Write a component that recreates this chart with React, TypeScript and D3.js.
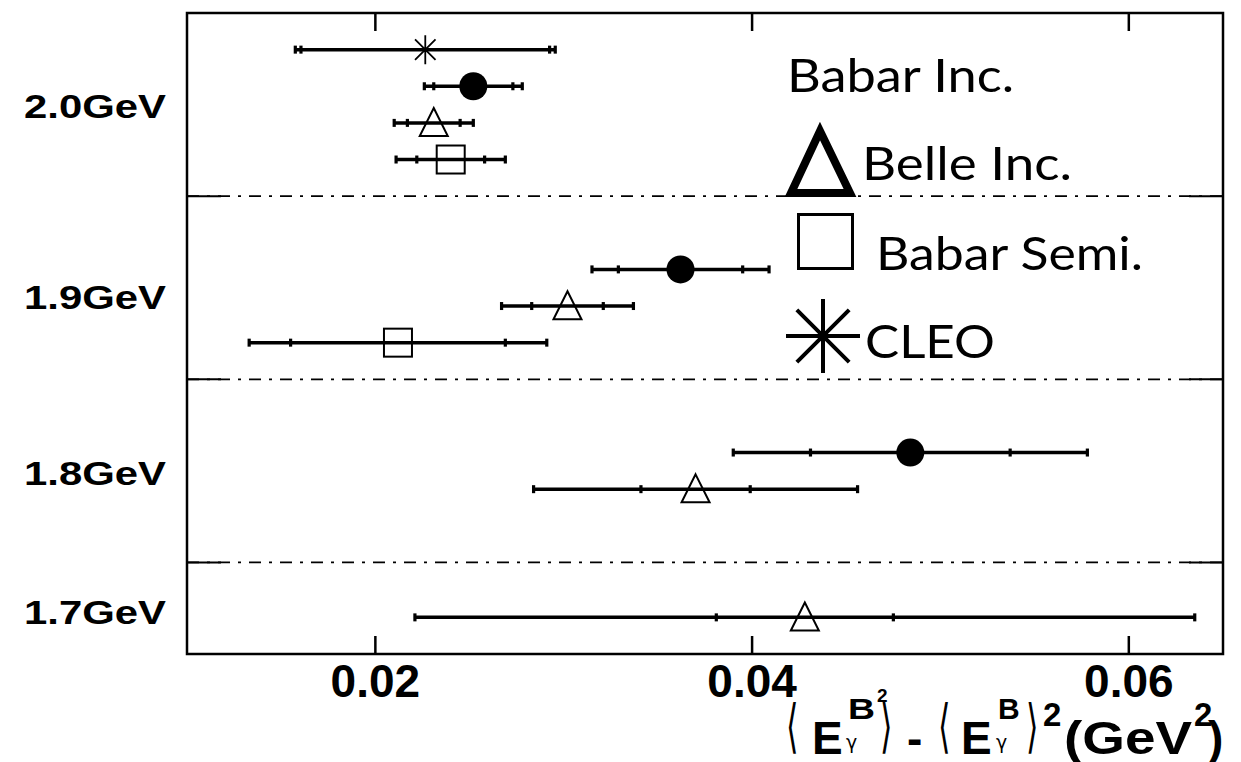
import React from "react";
import * as d3 from "d3";

// Photon-energy cut values (one band each)
const energies = ["2.0GeV", "1.9GeV", "1.8GeV", "1.7GeV"];

// Measured variance <E^2> - <E>^2 with statistical and total uncertainties (GeV^2)
const babarInc = [
  { energy: "2.0GeV", value: 0.0252, stat: 0.0021, total: 0.0026 },
  { energy: "1.9GeV", value: 0.0362, stat: 0.0033, total: 0.0047 },
  { energy: "1.8GeV", value: 0.0484, stat: 0.0053, total: 0.0094 },
];
const belleInc = [
  { energy: "2.0GeV", value: 0.0231, stat: 0.0014, total: 0.0021 },
  { energy: "1.9GeV", value: 0.0302, stat: 0.0019, total: 0.0035 },
  { energy: "1.8GeV", value: 0.0370, stat: 0.0029, total: 0.0086 },
  { energy: "1.7GeV", value: 0.0428, stat: 0.0047, total: 0.0207 },
];
const babarSemi = [
  { energy: "2.0GeV", value: 0.0240, stat: 0.0018, total: 0.0029 },
  { energy: "1.9GeV", value: 0.0212, stat: 0.0057, total: 0.0079 },
];
const cleo = [{ energy: "2.0GeV", value: 0.02265, stat: 0.0066, total: 0.0069 }];

const xTicks = [0.02, 0.04, 0.06];
const xTickLabels = ["0.02", "0.04", "0.06"];

// Vertical slot layout: each band spans 5 slots (the last one 2.5)
const bandStart: Record<string, number> = { "2.0GeV": 0, "1.9GeV": 5, "1.8GeV": 10, "1.7GeV": 15 };
const labelSlot: Record<string, number> = { "2.0GeV": 2.55, "1.9GeV": 7.75, "1.8GeV": 12.55, "1.7GeV": 16.35 };
const seriesOffset: Record<string, number> = { cleo: 1, babarInc: 2, belleInc: 3, babarSemi: 4 };

const W = 1241;
const H = 762;
const left = 187, right = 1223, top = 13, bottom = 654;

const x = d3.scaleLinear().domain([0.01, 0.065]).range([left, right]);
const y = d3.scaleLinear().domain([0, 17.5]).range([top, bottom]);

function slotOf(series: string, energy: string) {
  if (energy === "1.7GeV") return bandStart[energy] + 1.5;
  return bandStart[energy] + seriesOffset[series];
}

type Pt = { energy: string; value: number; stat: number; total: number };

function ErrorBar({ d, cy }: { d: Pt; cy: number }) {
  const ends = [d.value - d.total, d.value - d.stat, d.value + d.stat, d.value + d.total];
  return (
    <g>
      <line x1={x(d.value - d.total)} x2={x(d.value + d.total)} y1={cy} y2={cy} stroke="#000" strokeWidth={3.5} />
      {ends.map((v, i) => (
        <rect key={i} x={x(v) - 1.6} y={cy - 4} width={3.2} height={8} fill="#000" />
      ))}
    </g>
  );
}

function triPath(cx: number, cy: number, s: number) {
  const h = s;
  return `M${cx},${cy - h * 0.53} L${cx + s / 2},${cy + h * 0.47} L${cx - s / 2},${cy + h * 0.47} Z`;
}

function starPath(cx: number, cy: number, r: number, withHorizontal: boolean) {
  const dd = r * Math.SQRT1_2;
  let p = `M${cx},${cy - r} L${cx},${cy + r} M${cx - dd},${cy - dd} L${cx + dd},${cy + dd} M${cx - dd},${cy + dd} L${cx + dd},${cy - dd}`;
  if (withHorizontal) p += ` M${cx - r},${cy} L${cx + r},${cy}`;
  return p;
}

const boldFont = "'Liberation Sans', Arial, Helvetica, sans-serif";
const legendFont = "Lato, 'Open Sans', sans-serif";
const symFont = "'DejaVu Sans', sans-serif";

// Tall, narrow angle bracket for the axis title
function Bracket({ x0, ch }: { x0: number; ch: string }) {
  return (
    <text transform={`translate(${x0},746) scale(0.8,1.45)`} x={0} y={0} fontFamily={symFont} fontWeight="normal" fontSize={40}>
      {ch}
    </text>
  );
}

export default function App() {
  const dividers = [5, 10, 15];
  return (
    <svg width={W} height={H} style={{ position: "absolute", left: 0, top: 0, background: "#fff" }}>
      <rect x={0} y={0} width={W} height={H} fill="#fff" />

      {/* band dividers */}
      {dividers.map((s) => (
        <g key={s}>
          <line x1={left} x2={right} y1={y(s)} y2={y(s)} stroke="#000" strokeWidth={1.8} strokeDasharray="12,8,3,8" />
          <line x1={left} x2={left + 34} y1={y(s)} y2={y(s)} stroke="#000" strokeWidth={2} />
          <line x1={right - 34} x2={right} y1={y(s)} y2={y(s)} stroke="#000" strokeWidth={2} />
        </g>
      ))}

      {/* frame */}
      <rect x={left} y={top} width={right - left} height={bottom - top} fill="none" stroke="#000" strokeWidth={2.5} />

      {/* x ticks top and bottom */}
      {xTicks.map((t) => (
        <g key={t}>
          <line x1={x(t)} x2={x(t)} y1={bottom} y2={bottom - 18} stroke="#000" strokeWidth={2.5} />
          <line x1={x(t)} x2={x(t)} y1={top} y2={top + 18} stroke="#000" strokeWidth={2.5} />
        </g>
      ))}
      {xTicks.map((t, i) => (
        <text key={t} x={x(t)} y={697} textAnchor="middle" fontFamily={boldFont} fontWeight="bold" fontSize={46} fill="#000">
          {xTickLabels[i]}
        </text>
      ))}

      {/* band labels */}
      {energies.map((e) => (
        <text key={e} x={24} y={y(labelSlot[e]) + 12} fontFamily={boldFont} fontWeight="bold" fontSize={33}
          textLength={142} lengthAdjust="spacingAndGlyphs" fill="#000">
          {e}
        </text>
      ))}

      {/* error bars */}
      {cleo.map((d) => <ErrorBar key={"c" + d.energy} d={d} cy={y(slotOf("cleo", d.energy))} />)}
      {babarInc.map((d) => <ErrorBar key={"bi" + d.energy} d={d} cy={y(slotOf("babarInc", d.energy))} />)}
      {belleInc.map((d) => <ErrorBar key={"be" + d.energy} d={d} cy={y(slotOf("belleInc", d.energy))} />)}
      {babarSemi.map((d) => <ErrorBar key={"bs" + d.energy} d={d} cy={y(slotOf("babarSemi", d.energy))} />)}

      {/* markers */}
      {cleo.map((d) => (
        <path key={"cm" + d.energy} d={starPath(x(d.value), y(slotOf("cleo", d.energy)), 14.5, false)} stroke="#000" strokeWidth={1.8} fill="none" />
      ))}
      {babarInc.map((d) => (
        <circle key={"bim" + d.energy} cx={x(d.value)} cy={y(slotOf("babarInc", d.energy))} r={14} fill="#000" />
      ))}
      {belleInc.map((d) => (
        <path key={"bem" + d.energy} d={triPath(x(d.value), y(slotOf("belleInc", d.energy)), 28)} stroke="#000" strokeWidth={2} fill="none" />
      ))}
      {babarSemi.map((d) => {
        const cx = x(d.value), cy = y(slotOf("babarSemi", d.energy));
        return <rect key={"bsm" + d.energy} x={cx - 14} y={cy - 14} width={28} height={28} stroke="#000" strokeWidth={2} fill="none" />;
      })}

      {/* legend */}
      <g fill="#000" fontFamily={legendFont} fontSize={47}>
        <text x={787} y={92} textLength={227} lengthAdjust="spacingAndGlyphs">Babar Inc.</text>
        <path d="M820,131 L850,193 L791,193 Z" fill="none" stroke="#000" strokeWidth={8} />
        <text x={862} y={180} textLength={210} lengthAdjust="spacingAndGlyphs">Belle Inc.</text>
        <rect x={798.5} y={214.5} width={54} height={54} fill="none" stroke="#000" strokeWidth={3} />
        <text x={876} y={270} textLength={267} lengthAdjust="spacingAndGlyphs">Babar Semi.</text>
        <path d={starPath(823, 336, 37, true)} stroke="#000" strokeWidth={4} fill="none" />
        <text x={865} y={358} textLength={130} lengthAdjust="spacingAndGlyphs">CLEO</text>
      </g>

      {/* x-axis title: <E^{B^2}_gamma> - <E^B_gamma>^2 (GeV^2) */}
      <g fill="#000" fontFamily={boldFont} fontWeight="bold">
        <Bracket x0={786} ch="⟨" />
        <text x={812} y={754} fontSize={46}>E</text>
        <text x={846} y={749} fontFamily={symFont} fontWeight="normal" fontSize={19}>γ</text>
        <text x={848} y={719} fontSize={30} textLength={27} lengthAdjust="spacingAndGlyphs">B</text>
        <text x={877} y={702} fontSize={19}>2</text>
        <Bracket x0={880} ch="⟩" />
        <text x={907} y={754} fontSize={46}>-</text>
        <Bracket x0={938} ch="⟨" />
        <text x={961} y={754} fontSize={46}>E</text>
        <text x={996} y={749} fontFamily={symFont} fontWeight="normal" fontSize={19}>γ</text>
        <text x={998} y={719} fontSize={30}>B</text>
        <Bracket x0={1026} ch="⟩" />
        <text x={1043} y={726} fontSize={33}>2</text>
        <text x={1064} y={754} fontSize={46} textLength={128} lengthAdjust="spacingAndGlyphs">(GeV</text>
        <text x={1194} y={726} fontSize={33}>2</text>
        <text x={1208} y={754} fontSize={46}>)</text>
      </g>
    </svg>
  );
}
